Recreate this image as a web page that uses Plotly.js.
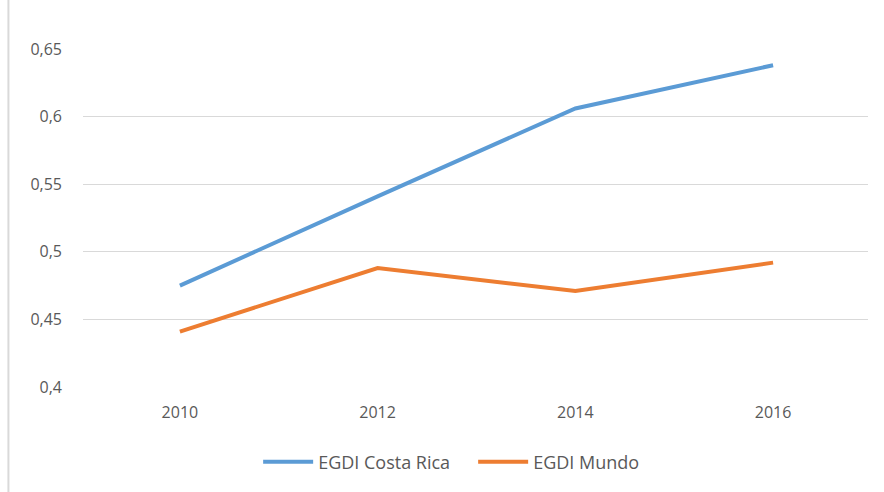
<!DOCTYPE html>
<html>
<head>
<meta charset="utf-8">
<script src="https://cdn.plot.ly/plotly-3.0.1.min.js"></script>
<style>
html,body{margin:0;padding:0;background:#fff;}
#chart{width:884px;height:492px;}
</style>
</head>
<body>
<div id="chart"></div>
<script>
const years = ['2010', '2012', '2014', '2016'];
const costaRica = [0.475, 0.541, 0.606, 0.638];
const mundo = [0.441, 0.488, 0.471, 0.492];
const yTickVals = [0.4, 0.45, 0.5, 0.55, 0.6, 0.65];
const yTickText = ['0,4', '0,45', '0,5', '0,55', '0,6', '0,65'];
const seriesNames = ['EGDI Costa Rica', 'EGDI Mundo'];

const font = {family: 'Open Sans, Liberation Sans, sans-serif', size: 16, color: '#595959'};
const legendFont = {family: 'Open Sans, Liberation Sans, sans-serif', size: 18, color: '#595959'};

const traces = [
  {x: years, y: costaRica, name: seriesNames[0], type: 'scatter', mode: 'lines',
   line: {color: '#5B9BD5', width: 4}},
  {x: years, y: mundo, name: seriesNames[1], type: 'scatter', mode: 'lines',
   line: {color: '#ED7D31', width: 4}}
];

const layout = {
  width: 884, height: 492,
  margin: {l: 83, r: 16, t: 49, b: 105},
  paper_bgcolor: '#ffffff', plot_bgcolor: '#ffffff',
  font: font,
  showlegend: true,
  legend: {orientation: 'h', x: 0.497, xanchor: 'center', y: -0.167, yanchor: 'top',
           font: legendFont, itemwidth: 50, entrywidth: 150, tracegroupgap: 0},
  xaxis: {type: 'category', showgrid: false, zeroline: false, showline: false,
          ticks: '', ticklabelstandoff: 14, tickfont: font, range: [-0.49, 3.48]},
  yaxis: {range: [0.4, 0.65], tickvals: yTickVals, ticktext: yTickText,
          showgrid: true, gridcolor: '#d9d9d9', gridwidth: 1, zeroline: false,
          showline: false, ticks: '', ticklabelstandoff: 20, tickfont: font},
  shapes: [{type: 'line', xref: 'paper', yref: 'paper', x0: -0.095, x1: -0.095, y0: -0.32, y1: 1.15,
            line: {color: '#d9d9d9', width: 2}}]
};

Plotly.newPlot('chart', traces, layout, {displayModeBar: false, staticPlot: true});
</script>
</body>
</html>
